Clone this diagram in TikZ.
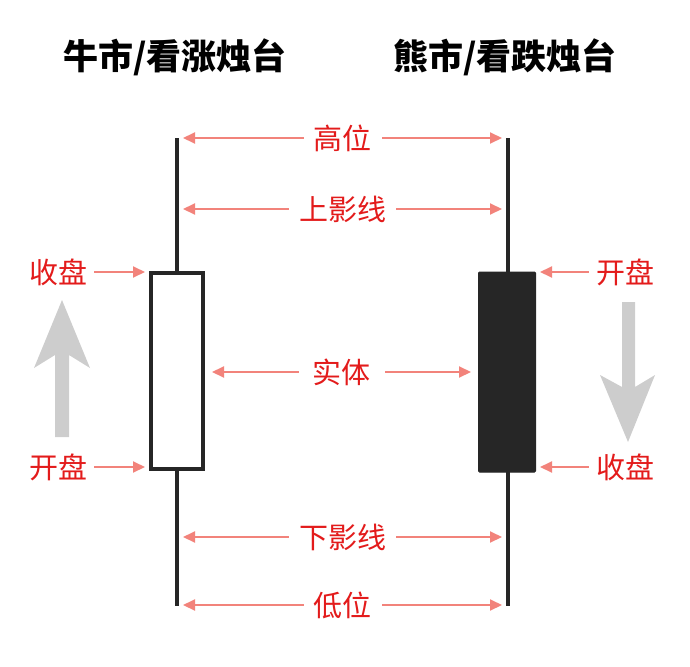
\documentclass[tikz,border=0pt]{standalone}
\usepackage{fontspec}
\newfontfamily\cjk{Noto Sans CJK SC}
\usetikzlibrary{arrows.meta, positioning}

\definecolor{labelred}{HTML}{E31B1B}
\definecolor{pointer}{HTML}{F2837B}
\definecolor{stick}{HTML}{262626}
\definecolor{trend}{HTML}{CDCDCD}

\begin{document}
\begin{tikzpicture}[x=1pt, y=-1pt,
    every node/.style={font=\cjk\fontsize{29}{32}\selectfont, text=labelred, inner sep=1pt},
    title/.style={font=\cjk\bfseries\fontsize{35}{38}\selectfont, text=black},
    wick/.style={draw=stick, line width=4.5pt},
    span/.style={{Triangle[length=12pt,width=11pt]}-{Triangle[length=12pt,width=11pt]}, draw=pointer, line width=2pt},
    pin/.style={-{Triangle[length=12pt,width=11pt]}, draw=pointer, line width=2pt},
    gap/.style={fill=white, inner xsep=10pt}
]
    \useasboundingbox (0,0) rectangle (690,666);

    % Titles
    \node (bulltitle) [title] at (175,57) {牛市/看涨烛台};
    \node (beartitle) [title] at (505,57) {熊市/看跌烛台};

    % Wicks
    \coordinate (bulltop) at (177,138);
    \coordinate (bullbot) at (177,606);
    \coordinate (beartop) at (508,138);
    \coordinate (bearbot) at (508,606);
    \draw [wick] (bulltop) -- (bullbot);
    \draw [wick] (beartop) -- (bearbot);

    % Bodies
    \node (bullbody) [draw=stick, line width=4.5pt, fill=white, minimum width=52pt, minimum height=196pt, inner sep=0pt] at (177,371) {};
    \node (bearbody) [draw=stick, fill=stick, line width=1pt, minimum width=57pt, minimum height=200pt, inner sep=0pt, rounded corners=1pt] at (507,372) {};

    % Spans between the two candles
    \coordinate (highL) at (183,138);  \coordinate (highR) at (502,138);
    \coordinate (upL) at (183,209);    \coordinate (upR) at (502,209);
    \coordinate (realL) at (212,372);  \coordinate (realR) at (471,372);
    \coordinate (lowL) at (183,537);   \coordinate (lowR) at (502,537);
    \coordinate (botL) at (183,605);   \coordinate (botR) at (502,605);
    \draw [span] (highL) -- node[gap] {高位} (highR);
    \draw [span] (upL) -- node[gap] {上影线} (upR);
    \draw [span] (realL) -- node[gap, inner xsep=14pt] {实体} (realR);
    \draw [span] (lowL) -- node[gap] {下影线} (lowR);
    \draw [span] (botL) -- node[gap] {低位} (botR);

    % Bull side: open and close
    \node (bullclose) at (58,272) {收盘};
    \node (bullopen) at (58,467) {开盘};
    \coordinate (bullcloseat) at (145,272);
    \coordinate (bullopenat) at (145,467);
    \draw [pin] ([xshift=6pt]bullclose.east) -- (bullcloseat);
    \draw [pin] ([xshift=6pt]bullopen.east) -- (bullopenat);

    % Bear side: open and close
    \node (bearopen) at (625,272) {开盘};
    \node (bearclose) at (625,467) {收盘};
    \coordinate (bearopenat) at (540,272);
    \coordinate (bearcloseat) at (540,467);
    \draw [pin] ([xshift=-6pt]bearopen.west) -- (bearopenat);
    \draw [pin] ([xshift=-6pt]bearclose.west) -- (bearcloseat);

    % Trend arrows
    \fill [trend] (55,437) -- (55,355) -- (34,368) -- (62,300) -- (90,368) -- (69,355) -- (69,437) -- cycle;
    \fill [trend] (622,302) -- (622,387) -- (600,375) -- (628,442) -- (655,375) -- (635,387) -- (635,302) -- cycle;
\end{tikzpicture}
\end{document}
